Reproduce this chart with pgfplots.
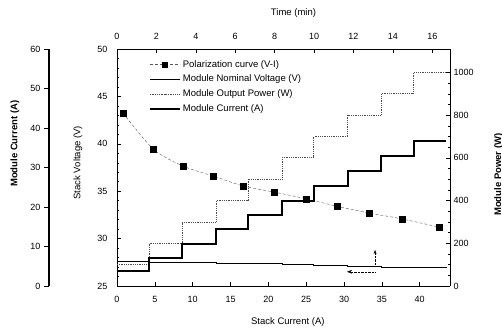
\documentclass[border=0pt]{standalone}
\usepackage{pgfplots}
\pgfplotsset{compat=1.18}
\usepackage{fontspec}
\setmainfont{Liberation Sans}
\usetikzlibrary{arrows.meta}

\begin{document}
\begin{tikzpicture}[font=\fontsize{9}{10.5}\selectfont]
\useasboundingbox (-117pt,-47pt) rectangle (385pt,286pt);
\pgfplotsset{
  base/.style={scale only axis, width=333pt, height=237pt, at={(0pt,0pt)}, anchor=south west,
    /pgf/number format/assume math mode=true, /pgf/number format/1000 sep={},
    tick style={black, line width=0.5pt}, axis line style={black, line width=0.6pt},
    tick align=inside, major tick length=4pt, minor tick length=2pt,
    tick label style={font=\fontsize{9}{10}\selectfont},
    label style={font=\fontsize{9.5}{11}\selectfont}},
}
% main axis: stack current vs stack voltage
\begin{axis}[base, xmin=0, xmax=44, ymin=25, ymax=50,
  axis x line*=bottom, axis y line*=left,
  xtick={0,5,...,40}, ytick={25,30,...,50}, minor y tick num=4,
  xticklabel style={yshift=-7pt}, yticklabel style={xshift=-6pt},
  xlabel={Stack Current (A)}, ylabel={Stack Voltage (V)},
  xlabel style={at={(axis description cs:0.513,-0.152)}, anchor=center},
  ylabel style={at={(axis description cs:-0.117,0.52)}, anchor=center}]
\addplot[densely dashed, gray!70!black, thin, smooth, mark=square*, mark size=3pt,
  mark options={solid, fill=black, draw=black}] coordinates {
  (0.8,43.25) (4.8,39.45) (8.7,37.66) (12.7,36.6) (16.7,35.55) (20.8,34.9)
  (25.0,34.2) (29.1,33.4) (33.3,32.7) (37.7,32.07) (42.6,31.2)};
\addplot[const plot, black, line width=0.7pt] coordinates {
  (0,27.55) (4.23,27.5) (8.59,27.45) (13.08,27.4) (17.3,27.35) (21.8,27.3)
  (26.0,27.2) (30.5,27.1) (34.9,27.0) (39.2,27.0) (43.6,27.0)};
\draw[densely dotted, -{Stealth[length=4pt]}] (axis cs:34.1,27.1) -- (axis cs:34.1,28.8);
\draw[densely dotted, -{Stealth[length=5pt]}] (axis cs:34.1,26.5) -- (axis cs:30.4,26.5);
\end{axis}
% top axis: time
\begin{axis}[base, xmin=0, xmax=16.9, ymin=0, ymax=1,
  axis x line*=top, axis y line=none, xtick={0,2,...,16},
  xticklabel style={yshift=6pt}, xlabel={Time (min)},
  xlabel style={at={(axis description cs:0.53,1.152)}, anchor=center}]
\addplot[draw=none] coordinates {(0,0)};
\end{axis}
% right axis: power
\begin{axis}[base, xmin=0, xmax=44, ymin=0, ymax=1110,
  axis y line*=right, axis x line=none, ytick={0,200,...,1000}, minor y tick num=3,
  ylabel={\bfseries Module Power (W)},
  ylabel style={at={(axis description cs:1.146,0.47)}, anchor=center, rotate=0}]
\addplot[const plot, densely dotted, gray!60!black, line width=0.8pt] coordinates {
  (0,100) (4.23,200) (8.59,300) (13.08,400) (17.3,500) (21.8,600) (26.0,700)
  (30.5,800) (34.9,900) (39.2,1000) (43.5,1000)};
\end{axis}
% module current plot + legend
\begin{axis}[base, xmin=0, xmax=44, ymin=0, ymax=60, hide axis,
  legend style={draw=none, fill=none, at={(0.095,0.962)}, anchor=north west,
    inner sep=0pt, row sep=2.5pt, font=\fontsize{9.5}{11}\selectfont, cells={anchor=west}},
  legend image code/.code={\draw[mark repeat=2, mark phase=2, #1] plot coordinates {(0pt,0pt) (15pt,0pt) (30pt,0pt)};}]
\addplot[const plot, black, line width=2pt, forget plot] coordinates {
  (0,3.8) (4.23,7.1) (8.59,10.7) (13.08,14.5) (17.3,18.1) (21.8,21.6) (26.0,25.2)
  (30.5,29.0) (34.9,32.8) (39.2,36.6) (43.5,36.6)};
\addlegendimage{densely dashed, gray!70!black, thin, mark=square*, mark size=2.5pt, mark options={solid, fill=black, draw=black}}
\addlegendentry{Polarization curve (V-I)}
\addlegendimage{black, line width=0.7pt}
\addlegendentry{Module Nominal Voltage (V)}
\addlegendimage{densely dotted, gray!60!black, line width=0.8pt}
\addlegendentry{Module Output Power (W)}
\addlegendimage{black, line width=2pt}
\addlegendentry{Module Current (A)}
\end{axis}
% outer left axis: module current
\begin{axis}[scale only axis, width=1pt, height=237pt, at={(-68pt,0pt)}, anchor=south west,
  xmin=0, xmax=1, ymin=0, ymax=60, axis y line*=left, axis x line=none,
  /pgf/number format/assume math mode=true,
  ytick={0,10,...,60}, tick align=outside, major tick length=5pt,
  tick style={black, line width=0.6pt}, axis line style={black, line width=1.6pt},
  tick label style={font=\fontsize{9}{10}\selectfont},
  ylabel={\bfseries Module Current (A)},
  ylabel style={font=\fontsize{9.5}{11}\selectfont, at={(axis description cs:-34,0.6)}, anchor=center}]
\addplot[draw=none] coordinates {(0,0)};
\end{axis}
\end{tikzpicture}
\end{document}
